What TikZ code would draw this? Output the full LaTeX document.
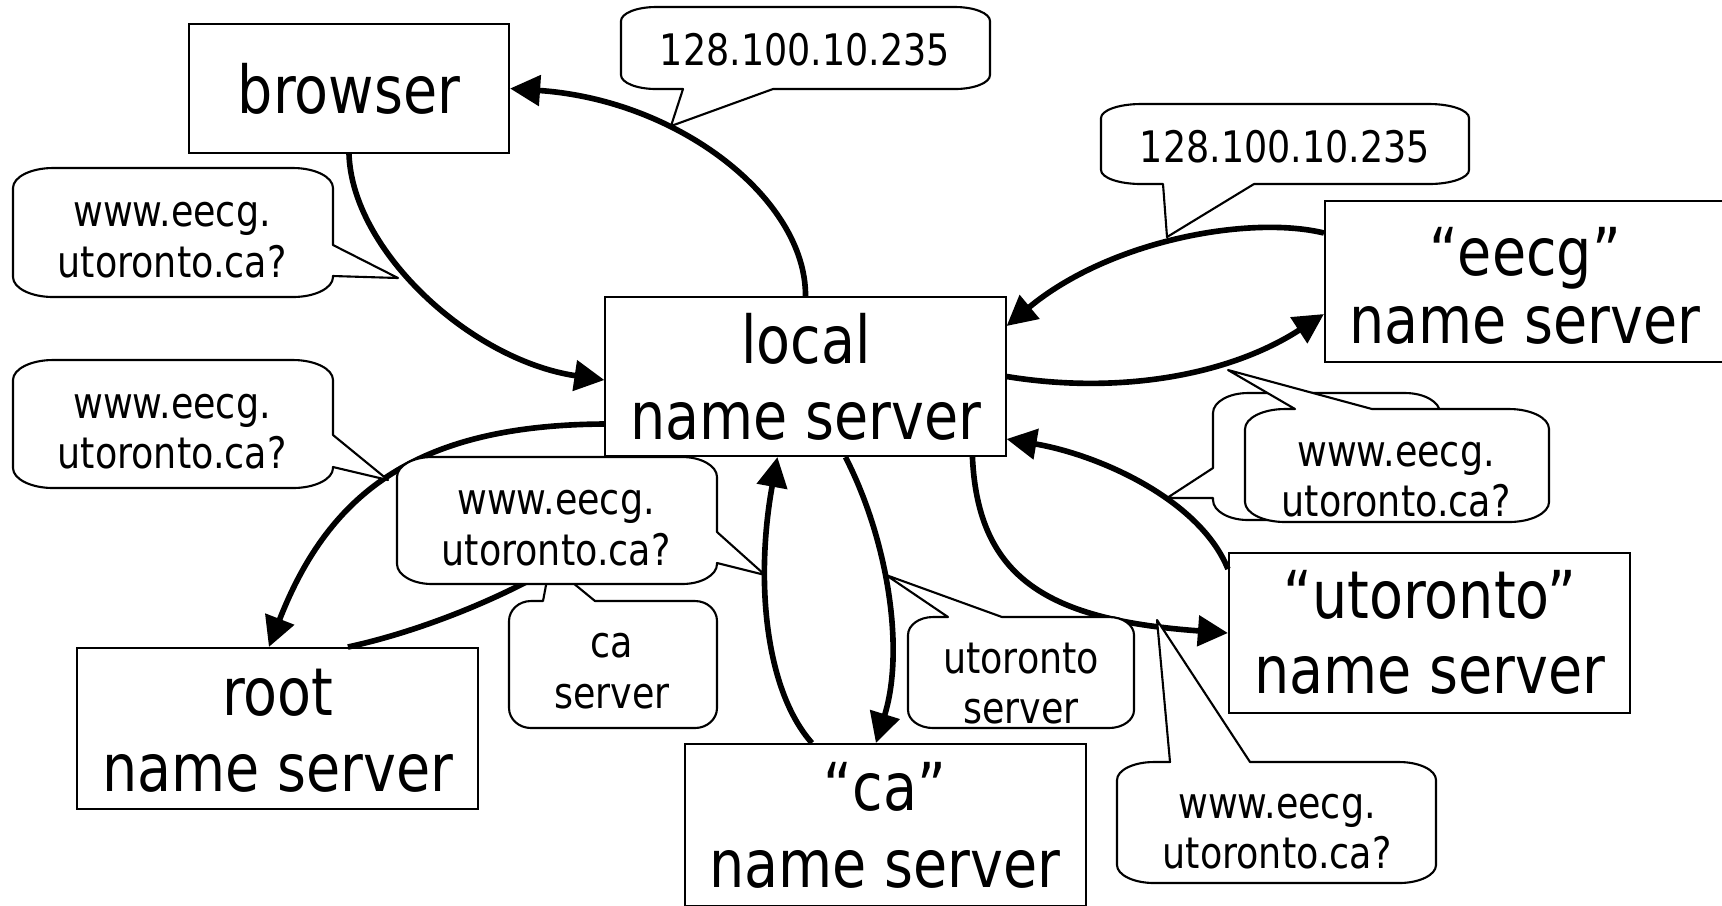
\documentclass[tikz,border=0pt]{standalone}
\usepackage{fontspec}
\setmainfont{DejaVu Sans}[FakeStretch=0.84]
\usetikzlibrary{arrows.meta,calc}
\newcommand\boxfont{\fontsize{18.8pt}{21pt}\selectfont}
\newcommand\cofont{\fontsize{12.35pt}{14pt}\selectfont}
\newcommand\crx{35}
\newcommand\cry{18}
% #1 x1, #2 y1, #3 x2, #4 y2, #5 top tail, #6 right tail, #7 bottom tail, #8 left tail
\newcommand\callout[8]{%
  \path[co] (#1+\crx,#2) #5 -- (#3-\crx,#2)
    .. controls (#3-0.448*\crx,#2) and (#3,#2+0.448*\cry) .. (#3,#2+\cry) #6
    -- (#3,#4-\cry)
    .. controls (#3,#4-0.448*\cry) and (#3-0.448*\crx,#4) .. (#3-\crx,#4) #7
    -- (#1+\crx,#4)
    .. controls (#1+0.448*\crx,#4) and (#1,#4-0.448*\cry) .. (#1,#4-\cry) #8
    -- (#1,#2+\cry)
    .. controls (#1,#2+0.448*\cry) and (#1+0.448*\crx,#2) .. (#1+\crx,#2) -- cycle;}
\tikzset{
  srvbox/.style={draw, line width=0.55pt, inner sep=0pt, anchor=center},
  bt/.style={font=\boxfont, anchor=base, inner sep=0pt},
  ct/.style={font=\cofont, anchor=base, inner sep=0pt},
  co/.style={draw, fill=white, line width=0.6pt, line join=round},
  arr/.style={line width=1.6pt, -{Triangle[length=0.3cm,width=0.3cm]}},
}
\begin{document}
\begin{tikzpicture}[x=0.01cm,y=-0.01cm]
\path[use as bounding box, fill=white] (0,0) rectangle (1722,905);

% server boxes
\node[srvbox, minimum width=3.2cm, minimum height=1.29cm] (browser) at (349,88.5) {};
\node[srvbox, minimum width=4.0cm, minimum height=1.59cm] (local) at (805.5,376.5) {};
\node[srvbox, minimum width=4.0cm, minimum height=1.61cm] (eecg) at (1525,281.5) {};
\node[srvbox, minimum width=4.01cm, minimum height=1.60cm] (utor) at (1429.5,633) {};
\node[srvbox, minimum width=4.01cm, minimum height=1.61cm] (root) at (277.5,728.5) {};
\node[srvbox, minimum width=4.01cm, minimum height=1.62cm] (ca) at (885.5,825) {};

% box texts
\node[bt] (tbrowser) at (349,113) {browser};
\node[bt] (tlocal1) at (806,363) {local};
\node[bt] (tlocal2) at (806,439) {name server};
\node[bt] (teecg1) at (1525,275) {“eecg”};
\node[bt] (teecg2) at (1525,343) {name server};
\node[bt] (tutor1) at (1430,618) {“utoronto”};
\node[bt] (tutor2) at (1430,693) {name server};
\node[bt] (troot1) at (278,715) {root};
\node[bt] (troot2) at (278,791) {name server};
\node[bt] (tca1) at (885,810) {“ca”};
\node[bt] (tca2) at (885,887) {name server};

% connectors
\draw[arr] (browser.south) .. controls (352,250) and (470,360) .. ($(local.west)+(0,3.5)$);
\draw[arr] (local.north) .. controls (806,200) and (680,100) .. (browser.east);
\draw[arr] ($(local.west)+(0,47.5)$) .. controls (420,425) and (330,490) .. ($(root.north west)+(193,0)$);
\draw[arr] ($(root.north west)+(272,0)$) .. controls (450,625) and (600,560) .. ($(local.south west)+(74.5,0)$);
\draw[arr] ($(local.south west)+(241,0)$) .. controls (888,540) and (905,650) .. ($(ca.north west)+(192,0)$);
\draw[arr] ($(ca.north west)+(128,0)$) .. controls (765,690) and (755,580) .. ($(local.south west)+(173,0)$);
\draw[arr] ($(local.south west)+(368,0)$) .. controls (978,580) and (1050,620) .. (utor.west);
\draw[arr] ($(utor.north west)+(0,17)$) .. controls (1200,500) and (1100,455) .. ($(local.south east)+(0,-18)$);
\draw[arr] (local.east) .. controls (1120,395) and (1230,375) .. ($(eecg.south west)+(0,-49)$);
\draw[arr] ($(eecg.north west)+(0,33)$) .. controls (1250,215) and (1110,240) .. ($(local.north east)+(0,30)$);

% callouts
\renewcommand\crx{35}\renewcommand\cry{14}
\callout{621}{7}{990}{89}{}{}{-- (773,89) -- (671,126) -- (683,89)}{}
\renewcommand\crx{40}
\callout{1101}{104}{1469}{184}{}{}{-- (1254,184) -- (1167,237) -- (1163,184)}{}
\renewcommand\cry{20}
\callout{13}{168}{333}{297}{}{-- (333,245) -- (398,278) -- (333,276)}{}{}
\callout{13}{360}{333}{488}{}{-- (333,435) -- (388,480) -- (333,467)}{}{}
\renewcommand\crx{22}
\callout{509}{601}{717}{728}{-- (543,601) -- (550,564) -- (595,601)}{}{}{}
\renewcommand\crx{35}
\callout{397}{457}{717}{584}{}{-- (717,532) -- (765,575) -- (717,563)}{}{}
\renewcommand\crx{25}\renewcommand\cry{18}
\callout{908}{617}{1134}{728}{-- (948,617) -- (886,575) -- (1002,617)}{}{}{}
\renewcommand\crx{37}
\callout{1117}{762}{1436}{883}{-- (1170,762) -- (1157,620) -- (1250,762)}{}{}{}
\renewcommand\crx{35}\renewcommand\cry{20}
\callout{1213}{393}{1440}{520}{}{}{}{-- (1213,498) -- (1167,498) -- (1213,468)}
\renewcommand\crx{40}
\callout{1245}{409}{1549}{522}{-- (1295,409) -- (1228,370) -- (1372,409)}{}{}{}

% callout texts
\node[ct] (ip1) at (805,65) {128.100.10.235};
\node[ct] (ip2) at (1285,162) {128.100.10.235};
\node[ct] (qa1) at (172,226) {www.eecg.};
\node[ct] (qa2) at (172,277) {utoronto.ca?};
\node[ct] (qb1) at (172,418) {www.eecg.};
\node[ct] (qb2) at (172,468) {utoronto.ca?};
\node[ct] (qc1) at (556,514) {www.eecg.};
\node[ct] (qc2) at (556,565) {utoronto.ca?};
\node[ct] (rca1) at (612,657) {ca};
\node[ct] (rca2) at (612,708) {server};
\node[ct] (rut1) at (1021,673) {utoronto};
\node[ct] (rut2) at (1021,723) {server};
\node[ct] (qd1) at (1277,818) {www.eecg.};
\node[ct] (qd2) at (1277,868) {utoronto.ca?};
\node[ct] (qe1) at (1396,466) {www.eecg.};
\node[ct] (qe2) at (1396,516) {utoronto.ca?};
\end{tikzpicture}
\end{document}
